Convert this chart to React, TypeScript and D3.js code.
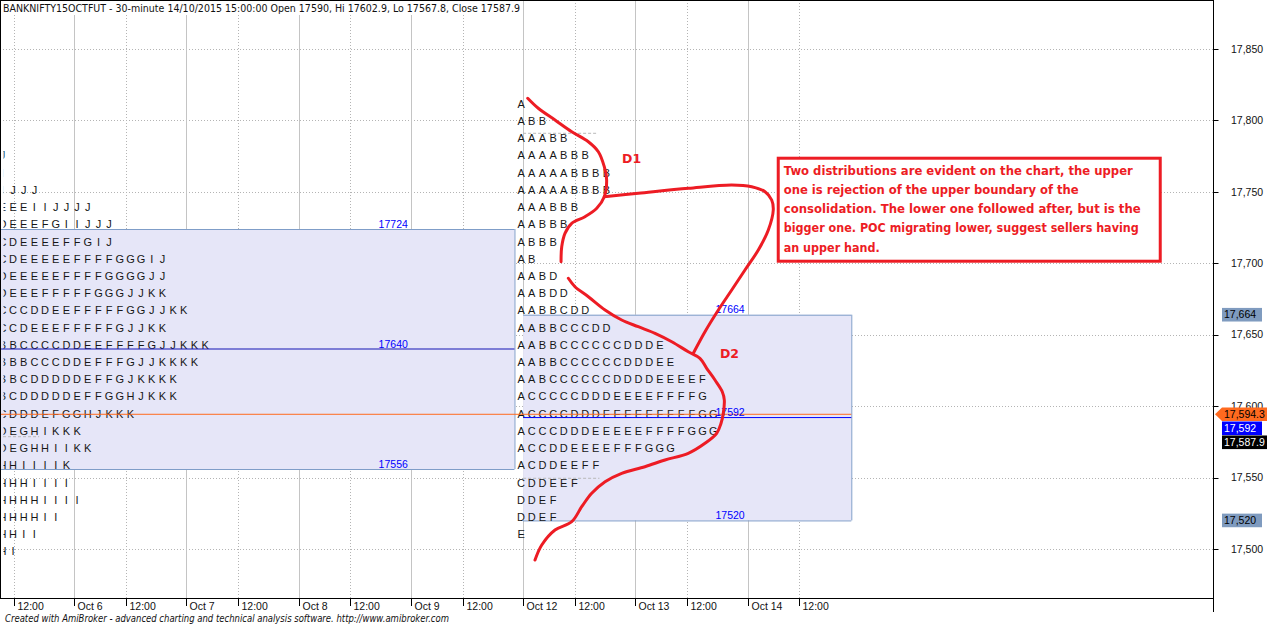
import * as d3 from 'd3';

// ---- data ----
const title =
  'BANKNIFTY15OCTFUT - 30-minute 14/10/2015 15:00:00 Open 17590, Hi 17602.9, Lo 17567.8, Close 17587.9';
const footer =
  'Created with AmiBroker - advanced charting and technical analysis software. http://www.amibroker.com';

const dayLabels = ['Oct 5', 'Oct 6', 'Oct 7', 'Oct 8', 'Oct 9', 'Oct 12', 'Oct 13', 'Oct 14'];
const barsPerDay = 13;
const noonBar = 6;
const priceTicks = [17500, 17550, 17600, 17650, 17700, 17750, 17800, 17850];

// TPO rows: row i sits at rowTop - i * rowStep
const rowTop = 17811.5;
const rowStep = 12.05;

// composite profile Oct 5 - Oct 9 (first letters run off the left edge)
const leftFirstRow = 3;
const leftRows = [
  'GHIIJ',
  'GHIII',
  'GHHIIJJJ',
  'CDDEEEEIIJJJJ',
  'BCCDDEEEFGIIJJJ',
  'BBCCCDEEEEFFGIJ',
  'ABCCCDEEEEEFFFFGGGIJ',
  'ABCDDEEEEEFFFFGGGGJJ',
  'ABCDDEEEFFFFFGGGJJKK',
  'AABBCCCDDEEFFFFFGGJJKK',
  'AABBCCDEEEFFFFFGJJKK',
  'AAABBBCCCCDDEEFFFFGJJKKK',
  'AAAABBBCCCDDEFFFGJJKKKK',
  'AAAABBCDDDDDEFFGJKKKK',
  'AAABBCDDDDDEFFGGHJKKK',
  'AABCCDDDEFGGHJKKK',
  'ABCDDEGHIKKK',
  'ABCDDEGHHIIKK',
  'BDEGHHIIIIK',
  'DEGHHHHIIII',
  'EGGHHHHHIIII',
  'EGHHHHHHII',
  'GHHHHHII',
  'GHHHHI',
];

// Oct 12 - Oct 14 profile
const rightFirstRow = 0;
const rightRows = [
  'A',
  'ABB',
  'AAABB',
  'AAAABBB',
  'AAAAABBBB',
  'AAAAABBBB',
  'AAABBB',
  'AABBB',
  'ABBB',
  'AB',
  'AABD',
  'AABDD',
  'AABBCDD',
  'AABBCCCDD',
  'AABBCCCCCCDDDE',
  'AABBCCCCCCDDDEE',
  'AABCCCCCCDDDDEEEEF',
  'ACCCCCDDDEEEEFFFFG',
  'ACCCCDDDEEEEEFFFFGG',
  'ACCCDDDEEEEEFFFFGGG',
  'ACCDDEEEEFFFGGG',
  'ACDDEEFF',
  'CDDEEF',
  'DDEF',
  'DDEF',
  'E',
];

// value areas
const leftArea = { start: -1, end: 4 + 12 / 13, high: 17724, low: 17556, poc: 17640, labelDay: 4 };
const rightArea = { start: 5, end: 7 + 12 / 13, high: 17664, low: 17520, poc: 17592, labelDay: 7 };

const lastPrice = 17594.3;
const closePrice = 17587.9;

// dashed marks [startDay, endDay, price]
const dashMarks: [number, number, number][] = [
  [5, 5.66, 17791],
  [5, 5.68, 17549.5],
  [-0.3, 0.69, 17578.6],
];

// hand-drawn annotation strokes [day, price]
const strokeD1: [number, number][] = [
  [5.041, 17815.5], [5.135, 17808.5], [5.284, 17800.3], [5.433, 17792.1], [5.581, 17785.1],
  [5.67, 17778.1], [5.723, 17767.6], [5.744, 17758.3], [5.723, 17746.6], [5.656, 17738.5],
  [5.551, 17732.6], [5.433, 17728.0], [5.373, 17721.0], [5.344, 17711.6], [5.338, 17701.1],
];
const strokeLink: [number, number][] = [
  [5.723, 17746.6], [6.026, 17749.0], [6.472, 17752.5], [6.858, 17754.8], [7.036, 17753.6],
  [7.155, 17750.1], [7.214, 17744.3], [7.228, 17737.3], [7.184, 17723.3], [7.095, 17709.3],
  [6.976, 17695.3], [6.858, 17681.3], [6.739, 17667.3], [6.62, 17652.1], [6.516, 17637.0],
];
const strokeD2: [number, number][] = [
  [5.403, 17689.5], [5.462, 17683.6], [5.581, 17676.6], [5.73, 17667.3], [5.878, 17660.3],
  [6.026, 17655.6], [6.175, 17651.0], [6.324, 17645.1], [6.471, 17638.1], [6.575, 17633.5],
  [6.635, 17626.5], [6.709, 17618.3], [6.774, 17610.1], [6.792, 17604.3], [6.783, 17595.0],
  [6.763, 17588.0], [6.724, 17581.0], [6.62, 17574.0], [6.471, 17567.0], [6.264, 17562.3],
  [6.085, 17557.6], [5.878, 17553.0], [5.73, 17547.1], [5.611, 17539.0], [5.522, 17529.6],
  [5.433, 17519.1], [5.284, 17513.3], [5.166, 17502.8], [5.106, 17492.3],
];
const tagD1 = { text: 'D1', day: 5.881, price: 17773 };
const tagD2 = { text: 'D2', day: 6.753, price: 17637 };

const noteAnchor = { day: 7.259, price: 17774.6 };
const noteLines = [
  'Two distributions are evident on the chart, the upper',
  'one is rejection of the upper boundary of the',
  'consolidation. The lower one followed after, but is the',
  'bigger one. POC migrating lower, suggest sellers having',
  'an upper hand.',
];
const noteWidths = [349, 295, 357, 355, 96];

// ---- layout ----
const W = 1267;
const H = 626;
const plotRight = 1213.5;
const plotBottom = 598.5;
const dayOrigin = -38.3;
const dayWidth = 112.28;
const letterPitch = 10.67;
const red = '#ed1c24';
const boxFill = '#e6e6f8';
const boxEdge = '#7f9dc8';

export default function App() {
  const x = d3
    .scaleLinear()
    .domain([0, dayLabels.length])
    .range([dayOrigin, dayOrigin + dayLabels.length * dayWidth]);
  const y = d3.scaleLinear().domain([17500, 17850]).range([549, 49]);
  const rowY = (i: number) => y(rowTop - i * rowStep);
  const fmt = d3.format(',');

  const stroke = d3
    .line<[number, number]>()
    .x((d) => x(d[0]))
    .y((d) => y(d[1]))
    .curve(d3.curveCatmullRom.alpha(0.5));

  const lastDay = dayLabels.length - 1;
  const vTicks: { pos: number; label: string; major: boolean }[] = [];
  dayLabels.forEach((lab, d) => {
    vTicks.push({ pos: d, label: lab, major: true });
    vTicks.push({ pos: d + noonBar / barsPerDay, label: '12:00', major: false });
  });
  const visibleTicks = vTicks.filter((t) => x(t.pos) > 1 && t.pos <= lastDay + noonBar / barsPerDay);

  const renderProfile = (rows: string[], first: number, startDay: number, key: string) =>
    rows.map((row, r) =>
      row.split('').map((ch, i) => (
        <text
          key={`${key}-${r}-${i}`}
          x={x(startDay) - 2 + i * letterPitch}
          y={rowY(first + r)}
          dy="0.35em"
          textAnchor="middle"
          fontSize={11}
          fontFamily="Liberation Sans, Arial, sans-serif"
          fill="#161616"
        >
          {ch}
        </text>
      )),
    );

  const renderArea = (a: typeof leftArea, key: string) => {
    const x0 = Math.max(x(a.start), 0);
    const x1 = x(a.end);
    return (
      <g key={key}>
        <rect x={x0} y={y(a.high)} width={x1 - x0} height={y(a.low) - y(a.high)} fill={boxFill} />
        <line x1={x0} x2={x1} y1={y(a.high) + 0.5} y2={y(a.high) + 0.5} stroke={boxEdge} />
        <line x1={x0} x2={x1} y1={y(a.low) + 0.5} y2={y(a.low) + 0.5} stroke={boxEdge} />
        <line x1={x1 + 0.5} x2={x1 + 0.5} y1={y(a.high)} y2={y(a.low)} stroke={boxEdge} />
      </g>
    );
  };

  const areaLabels = [leftArea, rightArea].flatMap((a) =>
    [a.high, a.poc, a.low].map((p) => ({ p, xr: x(a.labelDay) - 3 })),
  );

  // right-axis price tags, pushed down so they do not overlap
  const tags = [
    { p: rightArea.high, text: fmt(rightArea.high), bg: '#7f9bbf', fg: '#000', w: 40, arrow: false },
    { p: lastPrice, text: '17,594.3', bg: '#ff6a1f', fg: '#000', w: 46, arrow: true },
    { p: rightArea.poc, text: fmt(rightArea.poc), bg: '#0000ff', fg: '#fff', w: 40, arrow: false },
    { p: closePrice, text: '17,587.9', bg: '#000', fg: '#fff', w: 46, arrow: false },
    { p: rightArea.low, text: fmt(rightArea.low), bg: '#7f9bbf', fg: '#000', w: 40, arrow: false },
  ];
  let prevY = -Infinity;
  const placedTags = tags.map((t) => {
    const ty = Math.max(y(t.p), prevY + 14);
    prevY = ty;
    return { ...t, ty };
  });

  const nx = x(noteAnchor.day);
  const ny = y(noteAnchor.price);

  return (
    <svg
      width={W}
      height={H}
      viewBox={`0 0 ${W} ${H}`}
      style={{ position: 'absolute', left: 0, top: 0, display: 'block', background: '#fff' }}
    >
      <defs>
        <clipPath id="plot">
          <rect x={1} y={0} width={plotRight - 1} height={plotBottom} />
        </clipPath>
        <clipPath id="letters">
          <rect x={3.5} y={0} width={plotRight - 3.5} height={plotBottom} />
        </clipPath>
      </defs>
      <rect width={W} height={H} fill="#fff" />

      <g clipPath="url(#plot)">
        {/* grid */}
        {priceTicks.map((p) => (
          <line
            key={`hg-${p}`}
            x1={0}
            x2={plotRight}
            y1={Math.round(y(p)) + 0.5}
            y2={Math.round(y(p)) + 0.5}
            stroke="#b4b4b4"
            strokeDasharray="1 2"
          />
        ))}
        {visibleTicks.map((t) => (
          <line
            key={`vg-${t.pos}`}
            x1={Math.round(x(t.pos)) + 0.5}
            x2={Math.round(x(t.pos)) + 0.5}
            y1={0}
            y2={plotBottom}
            stroke={t.major ? '#c4c4c4' : '#b4b4b4'}
            strokeDasharray={t.major ? undefined : '1 2'}
          />
        ))}

        {/* value areas */}
        {renderArea(leftArea, 'la')}
        {renderArea(rightArea, 'ra')}

        {dashMarks.map(([d0, d1, p], i) => (
          <line key={`dm-${i}`} x1={x(d0)} x2={x(d1)} y1={y(p)} y2={y(p)} stroke="#b8b8b8" strokeDasharray="3 2" />
        ))}

        <g clipPath="url(#letters)">
          {renderProfile(leftRows, leftFirstRow, 0, 'l')}
          {renderProfile(rightRows, rightFirstRow, 5, 'r')}
        </g>

        {/* POC and last-price lines */}
        <line x1={0} x2={x(leftArea.end)} y1={y(leftArea.poc)} y2={y(leftArea.poc)} stroke="#1414b4" />
        <line x1={x(rightArea.start)} x2={x(rightArea.end)} y1={y(rightArea.poc)} y2={y(rightArea.poc)} stroke="#0000ff" />
        <line x1={0} x2={x(rightArea.end)} y1={y(lastPrice)} y2={y(lastPrice)} stroke="#ff6a1f" />

        {areaLabels.map((l, i) => (
          <text
            key={`al-${i}`}
            x={l.xr}
            y={y(l.p) - 1.5}
            textAnchor="end"
            fontSize={10.5}
            fontFamily="Liberation Sans, Arial, sans-serif"
            fill="#0000ff"
          >
            {l.p}
          </text>
        ))}

        {/* title */}
        <rect x={0} y={0} width={521} height={15} fill="#fff" />
        <text x={3} y={12} fontSize={10.5} fontFamily="DejaVu Sans, sans-serif" fill="#111" textLength={517} lengthAdjust="spacingAndGlyphs">
          {title}
        </text>

        {/* annotations */}
        <g fill="none" stroke={red} strokeWidth={3} strokeLinecap="round" strokeLinejoin="round">
          <path d={stroke(strokeD1) ?? ''} />
          <path d={stroke(strokeLink) ?? ''} />
          <path d={stroke(strokeD2) ?? ''} />
        </g>
        {[tagD1, tagD2].map((t) => (
          <text
            key={t.text}
            x={x(t.day)}
            y={y(t.price)}
            dy="0.35em"
            fontSize={12.5}
            fontWeight="bold"
            fontFamily="DejaVu Sans, sans-serif"
            fill={red}
          >
            {t.text}
          </text>
        ))}
        <rect x={nx + 1.5} y={ny + 1.5} width={382} height={103} fill="#fff" stroke={red} strokeWidth={3} />
        {noteLines.map((l, i) => (
          <text
            key={`n-${i}`}
            x={nx + 7}
            y={ny + 18 + i * 19.2}
            fontSize={11.5}
            fontWeight="bold"
            fontFamily="DejaVu Sans, sans-serif"
            fill={red}
            textLength={noteWidths[i]}
            lengthAdjust="spacingAndGlyphs"
          >
            {l}
          </text>
        ))}
      </g>

      {/* frame and axes */}
      <line x1={0.5} x2={0.5} y1={0} y2={plotBottom} stroke="#000" />
      <line x1={0} x2={plotRight} y1={0.5} y2={0.5} stroke="#000" />
      <line x1={0} x2={plotRight} y1={plotBottom} y2={plotBottom} stroke="#000" />
      <line x1={plotRight} x2={plotRight} y1={0} y2={612} stroke="#000" />

      {visibleTicks.map((t) => {
        const tx = Math.round(x(t.pos)) + 0.5;
        return (
          <g key={`xt-${t.pos}`}>
            <line x1={tx} x2={tx} y1={plotBottom} y2={606} stroke="#000" />
            <text x={tx + 3} y={609.5} fontSize={10.5} fontFamily="Liberation Sans, Arial, sans-serif" fill="#111">
              {t.label}
            </text>
          </g>
        );
      })}

      {priceTicks.map((p) => (
        <g key={`yt-${p}`}>
          <line x1={plotRight} x2={plotRight + 5} y1={Math.round(y(p)) + 0.5} y2={Math.round(y(p)) + 0.5} stroke="#000" />
          <text x={1231} y={y(p)} dy="0.35em" fontSize={10.5} fontFamily="Liberation Sans, Arial, sans-serif" fill="#111">
            {fmt(p)}
          </text>
        </g>
      ))}

      {placedTags.map((t, i) => (
        <g key={`tag-${i}`}>
          {t.arrow ? (
            <polygon
              points={`${plotRight + 1.5},${t.ty} ${1222},${t.ty - 6.8} ${1222 + t.w},${t.ty - 6.8} ${1222 + t.w},${t.ty + 6.8} ${1222},${t.ty + 6.8}`}
              fill={t.bg}
            />
          ) : (
            <rect x={1222} y={t.ty - 6.8} width={t.w} height={13.6} fill={t.bg} />
          )}
          <text x={1224} y={t.ty} dy="0.35em" fontSize={10.5} fontFamily="Liberation Sans, Arial, sans-serif" fill={t.fg}>
            {t.text}
          </text>
        </g>
      ))}

      <text
        x={5}
        y={622}
        fontSize={10}
        fontStyle="italic"
        fontFamily="DejaVu Sans, sans-serif"
        fill="#111"
        textLength={444}
        lengthAdjust="spacingAndGlyphs"
      >
        {footer}
      </text>
    </svg>
  );
}
